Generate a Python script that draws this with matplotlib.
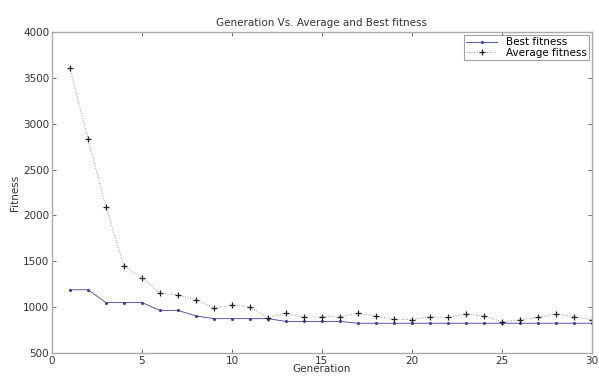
import numpy as np
import matplotlib
matplotlib.use('Agg')
from matplotlib import pyplot as plt

generation = np.arange(1, 31)
best_fitness = [1190, 1190, 1050, 1050, 1050, 965, 965, 905, 875, 875,
                875, 875, 845, 845, 845, 845, 825, 825, 825, 825,
                825, 825, 825, 825, 825, 825, 825, 825, 825, 825]
avg_fitness = [3605, 2833, 2092, 1449, 1322, 1152, 1133, 1079, 990, 1024,
               1002, 886, 934, 890, 897, 897, 934, 904, 868, 865,
               897, 888, 926, 905, 842, 861, 888, 926, 897, 861]

fig = plt.figure(figsize=(5.99, 3.78), dpi=100)
ax = fig.add_axes([0.0868, 0.066, 0.9012, 0.8493])

ax.plot(generation, best_fitness, color='#4040a0', linestyle='-', linewidth=0.6,
        marker='.', markersize=2.5, label='Best fitness')
ax.plot(generation, avg_fitness, color='#999999', linestyle=':', linewidth=0.7,
        marker='+', markersize=4, markeredgecolor='#222222', markeredgewidth=0.9,
        label='Average fitness')

ax.set_xlim(0, 30)
ax.set_ylim(500, 4000)
ax.set_xticks(np.arange(0, 31, 5))
ax.set_yticks(np.arange(500, 4001, 500))
ax.tick_params(direction='in', top=True, right=True, labelsize=7.5,
               length=3, width=0.6, color='#555555', labelcolor='#333333', pad=2)
for s in ax.spines.values():
    s.set_color('#aaaaaa')
    s.set_linewidth(1.0)

ax.set_title('Generation Vs. Average and Best fitness', fontsize=7.5, color='#333333', pad=4)
ax.set_xlabel('Generation', fontsize=7.5, color='#333333', labelpad=-1)
ax.set_ylabel('Fitness', fontsize=7.5, color='#333333', labelpad=2)

leg = ax.legend(loc='upper right', fontsize=7.5, frameon=True, fancybox=False,
                borderaxespad=0.3, handlelength=3, borderpad=0.2, labelspacing=0.05)
leg.get_frame().set_edgecolor('#888888')
leg.get_frame().set_linewidth(0.8)

fig.savefig('out.png', dpi=100)
